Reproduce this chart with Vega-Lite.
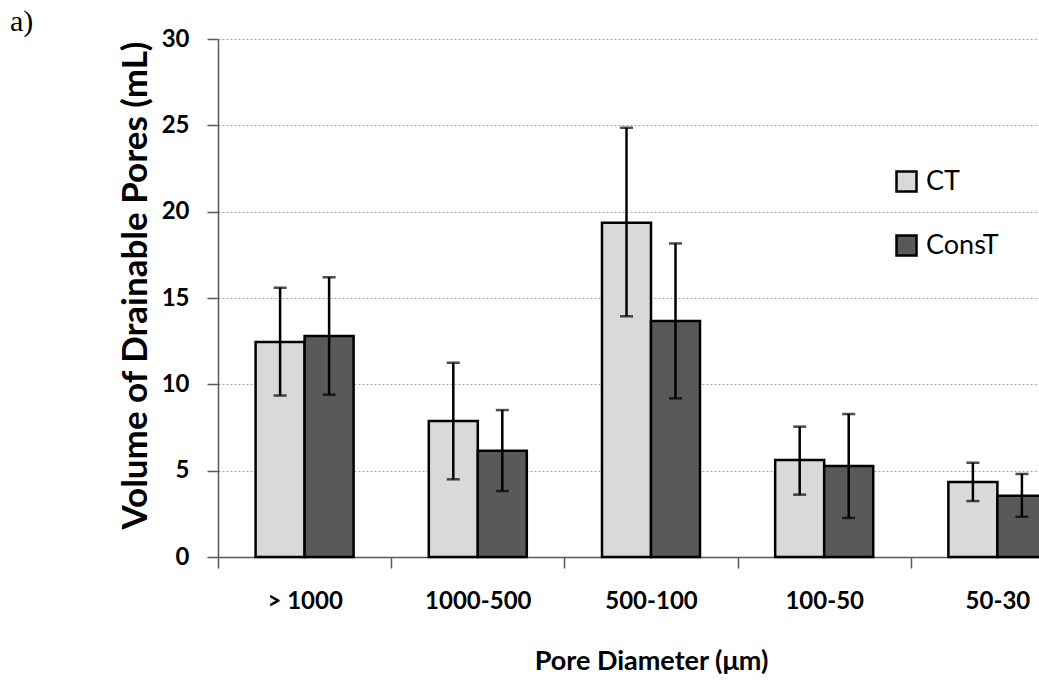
{
  "$schema": "https://vega.github.io/schema/vega-lite/v6.json",
  "autosize": "none",
  "width": 821,
  "height": 518,
  "padding": {"left": 218, "top": 39, "right": 0, "bottom": 139},
  "background": "white",
  "title": {"text": "a)", "anchor": "start", "frame": "group", "dx": -208, "dy": 10, "font": "Liberation Serif", "fontSize": 30, "fontWeight": "normal", "color": "black", "offset": 0},
  "config": {"view": {"stroke": null}, "font": "Lato"},
  "data": {"values": [
    {"cat": "> 1000", "series": "CT", "value": 12.45, "lo": 9.35, "hi": 15.6},
    {"cat": "> 1000", "series": "ConsT", "value": 12.8, "lo": 9.4, "hi": 16.2},
    {"cat": "1000-500", "series": "CT", "value": 7.87, "lo": 4.5, "hi": 11.25},
    {"cat": "1000-500", "series": "ConsT", "value": 6.16, "lo": 3.82, "hi": 8.51},
    {"cat": "500-100", "series": "CT", "value": 19.36, "lo": 13.94, "hi": 24.86},
    {"cat": "500-100", "series": "ConsT", "value": 13.67, "lo": 9.19, "hi": 18.16},
    {"cat": "100-50", "series": "CT", "value": 5.62, "lo": 3.61, "hi": 7.55},
    {"cat": "100-50", "series": "ConsT", "value": 5.27, "lo": 2.26, "hi": 8.28},
    {"cat": "50-30", "series": "CT", "value": 4.34, "lo": 3.24, "hi": 5.46},
    {"cat": "50-30", "series": "ConsT", "value": 3.55, "lo": 2.33, "hi": 4.81}
  ]},
  "encoding": {
    "x": {"field": "cat", "type": "nominal", "sort": null,
      "scale": {"range": [0, 866], "paddingInner": 0, "paddingOuter": 0},
      "axis": {"title": "Pore Diameter (\u03bcm)", "labelAngle": 0, "tickBand": "extent", "grid": false,
        "domainColor": "#595959", "domainWidth": 1.5, "tickColor": "#595959", "tickWidth": 1.5, "tickSize": 11,
        "labelFont": "Lato", "labelFontSize": 24, "labelFontWeight": "bold", "labelColor": "black", "labelPadding": 21,
        "titleFont": "Lato", "titleFontSize": 27, "titleFontWeight": "bold", "titleColor": "black", "titlePadding": 35}},
    "xOffset": {"field": "series", "type": "nominal", "sort": ["CT", "ConsT"], "scale": {"paddingInner": 0, "paddingOuter": 0.767}}
  },
  "layer": [
    {"mark": {"type": "bar", "stroke": "black", "strokeWidth": 2.5},
     "encoding": {
       "y": {"field": "value", "type": "quantitative",
         "scale": {"domain": [0, 30], "nice": false},
         "axis": {"title": "Volume of Drainable Pores (mL)", "values": [0, 5, 10, 15, 20, 25, 30],
           "grid": true, "gridDash": [2, 2], "gridColor": "#a6a6a6", "gridWidth": 1,
           "domainColor": "#595959", "domainWidth": 1.5, "tickColor": "#595959", "tickWidth": 1.5, "tickSize": 11,
           "labelFont": "Lato", "labelFontSize": 24, "labelFontWeight": "bold", "labelColor": "black", "labelPadding": 18,
           "titleFont": "Lato", "titleFontSize": 35, "titleFontWeight": "bold", "titleColor": "black", "titlePadding": 8, "titleY": 246}},
       "color": {"field": "series", "type": "nominal", "sort": ["CT", "ConsT"],
         "scale": {"domain": ["CT", "ConsT"], "range": ["#d9d9d9", "#595959"]},
         "legend": {"title": null, "orient": "none", "legendX": 675, "legendY": 129, "symbolType": "square", "symbolSize": 400,
           "symbolStrokeColor": "black", "symbolStrokeWidth": 2.5, "labelFont": "Lato", "labelFontSize": 27, "labelColor": "black",
           "labelOffset": 6, "rowPadding": 33}}
     }},
    {"mark": {"type": "rule", "color": "black", "strokeWidth": 2.5},
     "encoding": {"y": {"field": "lo", "type": "quantitative"}, "y2": {"field": "hi"}}},
    {"mark": {"type": "tick", "color": "black", "thickness": 2.5, "size": 13},
     "encoding": {"y": {"field": "lo", "type": "quantitative"}}},
    {"mark": {"type": "tick", "color": "black", "thickness": 2.5, "size": 13},
     "encoding": {"y": {"field": "hi", "type": "quantitative"}}}
  ]
}
